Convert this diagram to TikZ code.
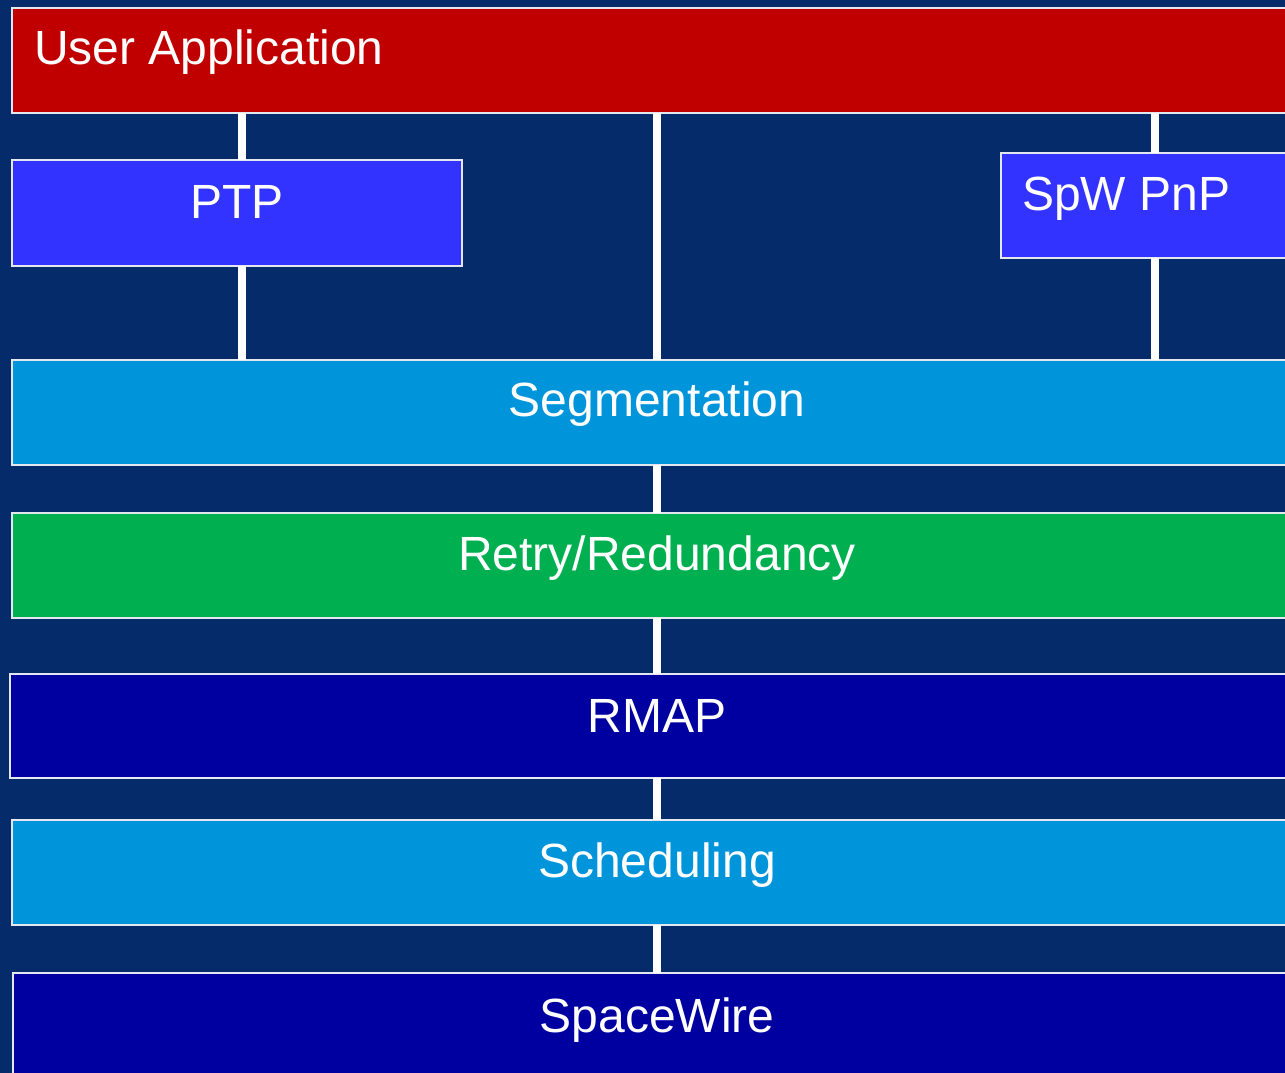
\documentclass[tikz,border=0pt]{standalone}
\usepackage{fontspec}
\setmainfont{Liberation Sans}
\definecolor{bgnavy}{HTML}{062B6A}
\definecolor{appred}{HTML}{C00000}
\definecolor{svcblue}{HTML}{3333FF}
\definecolor{layercyan}{HTML}{0094DB}
\definecolor{layergreen}{HTML}{00B050}
\definecolor{layerdark}{HTML}{0000A0}
\definecolor{edge}{HTML}{E4E6F0}
\tikzset{
  layer/.style={draw=edge, line width=2pt, inner sep=0pt, outer sep=0pt,
    anchor=north west, minimum height=105pt},
  lbl/.style={text=white, inner sep=0pt, font=\fontsize{48}{52}\selectfont},
  link/.style={draw=white, line width=8pt},
}
\begin{document}
\begin{tikzpicture}[x=1pt, y=-1pt]
  \useasboundingbox (0,0) rectangle (1285,1073);
  \clip (0,0) rectangle (1285,1073);
  \fill[bgnavy] (0,0) rectangle (1285,1073);

  % protocol stack layers
  \node[layer, fill=appred,     minimum width=1290pt] (ua)  at (12,8)    {};
  \node[layer, fill=svcblue,    minimum width=450pt, minimum height=106pt] (ptp) at (12,160) {};
  \node[layer, fill=svcblue,    minimum width=300pt] (pnp) at (1001,153) {};
  \node[layer, fill=layercyan,  minimum width=1290pt] (seg) at (12,360)  {};
  \node[layer, fill=layergreen, minimum width=1290pt] (rr)  at (12,513)  {};
  \node[layer, fill=layerdark,  minimum width=1294pt, minimum height=104pt] (rmap) at (10,674) {};
  \node[layer, fill=layercyan,  minimum width=1290pt] (sch) at (12,820)  {};
  \node[layer, fill=layerdark,  minimum width=1288pt, minimum height=120pt] (spw) at (13,973) {};

  % connectors between layers
  \coordinate (cx) at (657,0);
  \draw[link] ([xshift=5pt]ptp.north) -- ([xshift=5pt]ptp.north |- ua.south);
  \draw[link] ([xshift=5pt]ptp.south) -- ([xshift=5pt]ptp.south |- seg.north);
  \draw[link] ([xshift=154pt]pnp.north west) -- ([xshift=154pt]pnp.north west |- ua.south);
  \draw[link] ([xshift=154pt]pnp.south west) -- ([xshift=154pt]pnp.south west |- seg.north);
  \draw[link] (cx |- ua.south) -- (cx |- seg.north);
  \draw[link] (cx |- seg.south) -- (cx |- rr.north);
  \draw[link] (cx |- rr.south) -- (cx |- rmap.north);
  \draw[link] (cx |- rmap.south) -- (cx |- sch.north);
  \draw[link] (cx |- sch.south) -- (cx |- spw.north);

  % layer names
  \node[lbl, anchor=base west] (tua)  at ([xshift=22pt, yshift=-57pt]ua.north west) {User Application};
  \node[lbl, anchor=base]      (tptp) at ([yshift=-58pt]ptp.north) {PTP};
  \node[lbl, anchor=base west] (tpnp) at ([xshift=21pt, yshift=-57pt]pnp.north west) {SpW PnP};
  \node[lbl, anchor=base] (tseg)  at ([yshift=-56pt]seg.north -| cx) {Segmentation};
  \node[lbl, anchor=base] (trr)   at ([yshift=-57pt]rr.north -| cx) {Retry/Redundancy};
  \node[lbl, anchor=base] (trmap) at ([yshift=-58pt]rmap.north -| cx) {RMAP};
  \node[lbl, anchor=base] (tsch)  at ([yshift=-57pt]sch.north -| cx) {Scheduling};
  \node[lbl, anchor=base] (tspw)  at ([yshift=-59pt]spw.north -| cx) {SpaceWire};
\end{tikzpicture}
\end{document}
